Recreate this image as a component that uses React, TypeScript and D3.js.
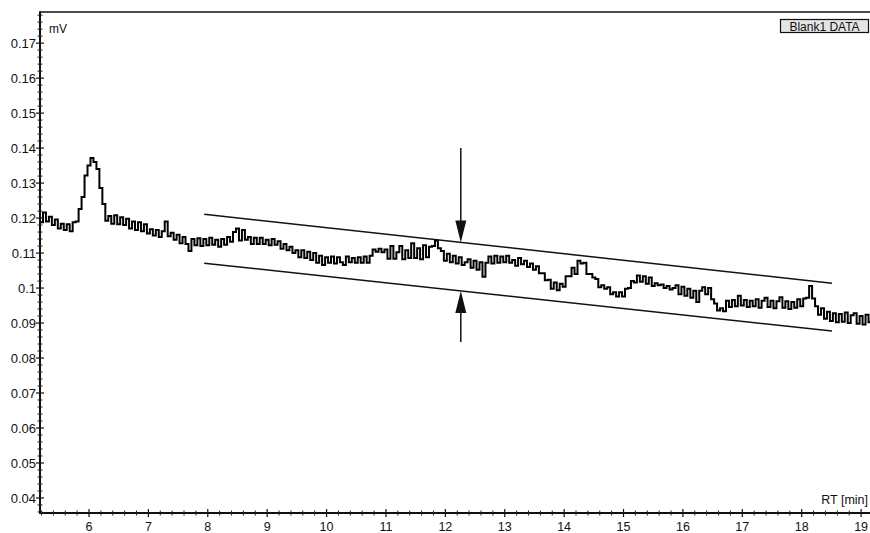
import React from 'react';
import * as d3 from 'd3';

// Detector signal sampled every 0.05 min starting at 5.15 min (values in µV, i.e. 0.001 mV)
const SAMPLE_START = 5.15;
const SAMPLE_STEP = 0.05;
const signalMicroVolt: number[] = [
  120.6, 118.8, 121.6, 119.0, 120.4, 118.0, 119.6, 117.0, 118.4, 116.6,
  118.2, 116.2, 118.8, 119.0, 122.6, 126.0, 132.2, 135.0, 137.2, 136.0,
  134.0, 128.6, 124.0, 119.2, 120.6, 118.4, 120.8, 118.2, 120.2, 118.0,
  119.8, 117.0, 119.0, 116.6, 118.8, 116.2, 118.2, 115.6, 116.8, 115.0,
  116.6, 114.6, 116.2, 119.0, 114.8, 115.8, 113.8, 115.2, 112.8, 114.6,
  112.6, 110.6, 114.0, 112.2, 114.2, 112.0, 114.0, 112.2, 114.4, 112.4,
  113.8, 111.8, 114.0, 112.4, 114.6, 113.2, 116.0, 117.0, 113.6, 116.6,
  113.8, 114.6, 112.6, 114.4, 112.6, 114.4, 112.6, 113.8, 112.2, 114.0,
  112.4, 113.4, 111.2, 112.6, 110.8, 111.8, 110.0, 110.8, 108.8, 110.8,
  108.6, 110.4, 108.0, 110.0, 107.2, 109.2, 106.6, 108.8, 107.2, 109.0,
  107.0, 108.8, 107.4, 106.6, 109.0, 107.4, 108.6, 107.2, 108.8, 107.2,
  109.0, 107.2, 109.2, 111.0, 110.4, 111.2, 110.2, 111.0, 108.4, 112.0,
  108.4, 110.2, 112.0, 108.2, 110.8, 108.6, 112.8, 108.6, 111.4, 108.2,
  112.2, 108.8, 111.8, 112.0, 113.6, 111.4, 110.6, 107.8, 109.8, 107.4,
  109.2, 107.0, 108.8, 106.6, 107.4, 108.2, 105.8, 107.8, 105.2, 107.4,
  103.2, 107.2, 109.0, 107.0, 109.2, 107.2, 109.0, 107.4, 109.2, 107.2,
  108.0, 106.4, 108.6, 106.8, 107.8, 106.0, 107.0, 105.2, 106.2, 104.2,
  104.2, 102.2, 102.4, 99.8, 101.6, 99.4, 101.2, 100.4, 103.4, 103.4,
  105.8, 104.0, 107.8, 107.0, 107.2, 104.0, 104.0, 103.0, 102.6, 100.2,
  100.8, 99.8, 100.2, 98.2, 98.8, 97.6, 98.8, 97.6, 99.8, 100.0,
  102.0, 101.6, 103.6, 101.8, 103.4, 101.2, 103.0, 100.6, 101.4, 100.8,
  101.0, 100.0, 100.6, 99.6, 100.0, 100.8, 98.2, 100.4, 97.8, 99.8,
  97.2, 99.2, 96.0, 99.2, 100.2, 98.2, 100.0, 96.8, 95.6, 93.6,
  94.2, 93.4, 96.4, 94.6, 96.6, 94.8, 97.8, 95.0, 96.6, 94.6,
  96.4, 94.8, 96.8, 94.4, 96.4, 97.2, 94.6, 96.4, 94.2, 96.2,
  97.4, 94.4, 96.2, 94.0, 96.0, 94.4, 96.8, 94.8, 97.0, 97.2,
  100.6, 97.0, 94.8, 92.4, 94.2, 91.2, 93.2, 90.6, 92.8, 90.2,
  92.6, 90.4, 93.0, 90.0, 92.2, 92.8, 89.8, 92.0, 89.6, 92.4,
  90.2,
];

const yTickValues = [0.04, 0.05, 0.06, 0.07, 0.08, 0.09, 0.1, 0.11, 0.12, 0.13, 0.14, 0.15, 0.16, 0.17];
const yTickLabels = ['0.04', '0.05', '0.06', '0.07', '0.08', '0.09', '0.1', '0.11', '0.12', '0.13', '0.14', '0.15', '0.16', '0.17'];
const xTickValues = [6, 7, 8, 9, 10, 11, 12, 13, 14, 15, 16, 17, 18, 19];
const xTickLabels = ['6', '7', '8', '9', '10', '11', '12', '13', '14', '15', '16', '17', '18', '19'];

// Noise band lines
const bandTimes = [7.94, 18.51];
const bandUpper = [0.1211, 0.1014];
const bandLower = [0.1071, 0.0877];

// Noise arrows
const arrowTime = 12.26;
const arrowTopStart = 0.14;
const arrowBottomStart = 0.0846;

const W = 870;
const H = 533;
const left = 40;
const top = 12;
const right = 870;
const bottom = 513;
const FONT = '"Liberation Sans", Arial, sans-serif';

export default function App() {
  const x = d3.scaleLinear().domain([5.175, 19.15]).range([left, right]);
  const y = d3.scaleLinear().domain([0.0357, 0.1789]).range([bottom, top]);

  const points = signalMicroVolt.map((v, i) => [SAMPLE_START + i * SAMPLE_STEP, v / 1000] as [number, number]);
  const line = d3
    .line<[number, number]>()
    .x((d) => x(d[0]))
    .y((d) => y(d[1]))
    .curve(d3.curveStep);

  const interp = (vals: number[], t: number) =>
    vals[0] + ((t - bandTimes[0]) / (bandTimes[1] - bandTimes[0])) * (vals[1] - vals[0]);
  const arrowTopEnd = interp(bandUpper, arrowTime);
  const arrowBottomEnd = interp(bandLower, arrowTime);

  const yMinor = d3.range(0.036, 0.1785, 0.002).filter((v) => Math.abs(v * 100 - Math.round(v * 100)) > 1e-6);
  const xMinor = d3.range(5.2, 19.15, 0.2).filter((v) => Math.abs(v - Math.round(v)) > 1e-6);

  const ax = x(arrowTime);
  const headL = 22;
  const headW = 5.5;
  const yTopTip = y(arrowTopEnd);
  const yBotTip = y(arrowBottomEnd);

  return (
    <svg
      width={W}
      height={H}
      style={{ position: 'absolute', left: 0, top: 0, background: '#fff' }}
      fontFamily={FONT}
    >
      <defs>
        <clipPath id="plotClip">
          <rect x={left} y={top} width={right - left} height={bottom - top} />
        </clipPath>
      </defs>
      <rect x={0} y={0} width={W} height={H} fill="#fff" />

      {/* signal */}
      <path
        d={line(points) || ''}
        fill="none"
        stroke="#000"
        strokeWidth={2}
        strokeLinejoin="miter"
        clipPath="url(#plotClip)"
      />

      {/* band lines */}
      <line x1={x(bandTimes[0])} y1={y(bandUpper[0])} x2={x(bandTimes[1])} y2={y(bandUpper[1])} stroke="#111" strokeWidth={1.5} />
      <line x1={x(bandTimes[0])} y1={y(bandLower[0])} x2={x(bandTimes[1])} y2={y(bandLower[1])} stroke="#111" strokeWidth={1.5} />

      {/* arrows */}
      <line x1={ax} y1={y(arrowTopStart)} x2={ax} y2={yTopTip - 4} stroke="#111" strokeWidth={1.5} />
      <path d={`M${ax},${yTopTip} L${ax - headW},${yTopTip - headL} L${ax + headW},${yTopTip - headL} Z`} fill="#111" />
      <line x1={ax} y1={y(arrowBottomStart)} x2={ax} y2={yBotTip + 4} stroke="#111" strokeWidth={1.5} />
      <path d={`M${ax},${yBotTip} L${ax - headW},${yBotTip + headL} L${ax + headW},${yBotTip + headL} Z`} fill="#111" />

      {/* frame */}
      <line x1={left} y1={top} x2={right} y2={top} stroke="#111" strokeWidth={1.5} />
      <line x1={left} y1={top - 0.75} x2={left} y2={bottom + 1} stroke="#111" strokeWidth={2} />
      <line x1={left - 1} y1={bottom} x2={right} y2={bottom} stroke="#111" strokeWidth={2} />

      {/* y ticks */}
      {yMinor.map((v, i) => (
        <line key={'ym' + i} x1={left - 2.5} x2={left + 2.5} y1={y(v)} y2={y(v)} stroke="#222" strokeWidth={1} />
      ))}
      {yTickValues.map((v, i) => (
        <g key={'y' + i}>
          <line x1={left - 4} x2={left + 4} y1={y(v)} y2={y(v)} stroke="#111" strokeWidth={1.2} />
          <text x={left - 4} y={y(v)} dy="0.35em" textAnchor="end" fontSize={13} fill="#111">
            {yTickLabels[i]}
          </text>
        </g>
      ))}

      {/* x ticks */}
      {xMinor.map((v, i) => (
        <line key={'xm' + i} x1={x(v)} x2={x(v)} y1={bottom - 2.5} y2={bottom + 2.5} stroke="#222" strokeWidth={1} />
      ))}
      {xTickValues.map((v, i) => (
        <g key={'x' + i}>
          <line x1={x(v)} x2={x(v)} y1={bottom - 4} y2={bottom + 4} stroke="#111" strokeWidth={1.2} />
          <text x={x(v)} y={bottom + 18} textAnchor="middle" fontSize={12.5} fill="#111">
            {xTickLabels[i]}
          </text>
        </g>
      ))}

      {/* axis titles */}
      <text x={49} y={33} fontSize={12} fill="#111">mV</text>
      <text x={868} y={504} textAnchor="end" fontSize={12.5} fill="#111">RT [min]</text>

      {/* trace name */}
      <rect x={780.5} y={19.5} width={88} height={13} fill="#e4e4e4" stroke="#111" strokeWidth={1.2} />
      <text x={824.5} y={30.5} textAnchor="middle" fontSize={12} fill="#111">Blank1 DATA</text>
    </svg>
  );
}
